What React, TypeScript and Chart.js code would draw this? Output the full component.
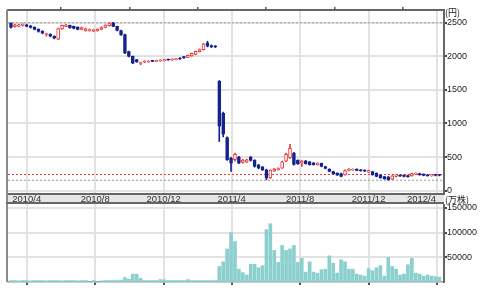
import React, { useEffect, useRef } from 'react';
import { Chart, registerables } from 'chart.js';

Chart.register(...registerables);

// ---- data ----
const firstWeek = '2010-03-04';

const opens = [
  2490, 2440, 2450, 2460, 2470, 2455, 2435, 2405, 2375, 2325,
  2330, 2300, 2255, 2410, 2445, 2460, 2445, 2435, 2400, 2380,
  2380, 2375, 2380, 2400, 2430, 2455, 2500, 2445, 2385, 2325,
  2070, 2000, 1950, 1895, 1915, 1915, 1935, 1925, 1930, 1935,
  1955, 1945, 1950, 1975, 1995, 1985, 2005, 2030, 2070, 2100,
  2200, 2160, 2155, 1628, 1150, 790, 485, 460, 500, 420,
  425, 495, 455, 385, 355, 310, 190, 290, 310, 335,
  440, 490, 560, 450, 415, 445, 430, 415, 385, 405,
  360, 320, 285, 260, 255, 235, 300, 305, 320, 310,
  305, 275, 285, 260, 235, 210, 205, 170, 210, 230,
  230, 225, 220, 245, 255, 245, 235, 220, 240, 235,
];
const closes = [
  2430, 2470, 2470, 2475, 2445, 2430, 2400, 2370, 2345, 2335,
  2300, 2270, 2415, 2460, 2465, 2425, 2415, 2400, 2430, 2410,
  2400, 2395, 2405, 2430, 2465, 2495, 2445, 2385, 2320, 2050,
  2000, 1900, 1920, 1910, 1925, 1930, 1925, 1940, 1945, 1950,
  1945, 1960, 1965, 1960, 1975, 2015, 2045, 2075, 2100, 2185,
  2150, 2140, 2140, 960, 840, 460, 410, 540, 410, 455,
  460, 450, 360, 335, 310, 190, 305, 320, 330, 430,
  540, 630, 390, 400, 435, 400, 385, 385, 410, 360,
  330, 285, 250, 230, 210, 300, 320, 320, 300, 295,
  290, 300, 235, 210, 190, 175, 165, 220, 235, 215,
  210, 205, 255, 260, 235, 225, 220, 235, 225, 225,
];
const highs = [
  2500, 2480, 2480, 2485, 2480, 2460, 2440, 2410, 2380, 2345,
  2335, 2305, 2420, 2465, 2475, 2465, 2450, 2440, 2435, 2420,
  2410, 2400, 2410, 2440, 2470, 2500, 2505, 2450, 2390, 2330,
  2080, 2005, 1955, 1915, 1935, 1935, 1940, 1945, 1950, 1955,
  1960, 1965, 1970, 1980, 2000, 2020, 2050, 2080, 2110, 2195,
  2225, 2170, 2160, 1640, 1170, 800, 495, 560, 510, 465,
  470, 510, 460, 390, 360, 320, 310, 330, 340, 440,
  560, 690, 570, 460, 450, 450, 435, 420, 415, 410,
  365, 325, 290, 265, 260, 310, 330, 325, 325, 315,
  310, 305, 290, 265, 240, 215, 210, 225, 240, 235,
  235, 230, 260, 265, 260, 250, 240, 240, 245, 240,
];
const lows = [
  2420, 2435, 2440, 2450, 2440, 2420, 2395, 2360, 2335, 2300,
  2290, 2260, 2250, 2400, 2440, 2420, 2410, 2395, 2395, 2375,
  2375, 2370, 2375, 2395, 2425, 2450, 2440, 2380, 2310, 2040,
  1990, 1890, 1910, 1875, 1905, 1910, 1920, 1920, 1925, 1930,
  1940, 1940, 1945, 1955, 1970, 1980, 2000, 2025, 2065, 2095,
  2140, 2130, 2130, 730, 800, 450, 285, 440, 400, 410,
  420, 440, 350, 325, 300, 160, 180, 285, 305, 330,
  430, 480, 380, 390, 360, 395, 380, 380, 380, 355,
  325, 280, 245, 225, 205, 230, 295, 300, 295, 290,
  285, 270, 230, 205, 185, 170, 155, 165, 205, 210,
  205, 200, 215, 240, 230, 220, 215, 215, 220, 220,
];
const volumes = [
  3000, 3000, 2500, 3000, 3000, 2500, 3000, 3000, 3000, 2500,
  3000, 3000, 3000, 2500, 3000, 3000, 3000, 2500, 3000, 3000,
  0, 3000, 0, 2500, 3000, 3000, 3000, 3000, 3500, 9000,
  6000, 16000, 16000, 7500, 3000, 3000, 3000, 3000, 5000, 4500,
  3000, 3000, 3000, 3000, 3000, 5000, 3000, 3000, 3000, 3000,
  3000, 3000, 3000, 31500, 41000, 67000, 100000, 82000, 26000, 19000,
  14000, 36000, 36000, 29000, 33000, 106000, 118000, 64000, 40000, 74000,
  64000, 67000, 74000, 40000, 48000, 20000, 41000, 20000, 18000, 25000,
  26000, 53000, 38000, 18000, 45000, 41000, 26000, 26000, 16000, 14000,
  12000, 27000, 23000, 29000, 33000, 12000, 50000, 31500, 26000, 14000,
  16000, 35000, 48000, 18000, 16000, 12000, 14000, 12000, 11000, 10000,
];

const dateLabels = ['2010/4', '2010/8', '2010/12', '2011/4', '2011/8', '2011/12', '2012/4'];
const priceTicks = [0, 500, 1000, 1500, 2000, 2500];
const volumeTicks = [50000, 100000, 150000];
const highLine = 2500;
const lowLine = 155;
const markLine = 240;
const priceUnit = '(円)';
const volumeUnit = '(万株)';

// ---- derived ----
const DAY = 86400000;
const ORIGIN = Date.UTC(2010, 0, 1);
const dayOf = (y: number, m: number, d: number) => (Date.UTC(y, m - 1, d) - ORIGIN) / DAY;
const [fy, fm, fd] = firstWeek.split('-').map(Number);
const weekDays = opens.map((_, i) => dayOf(fy, fm, fd) + 7 * i);
const labelDays = dateLabels.map((s) => {
  const [y, m] = s.split('/').map(Number);
  return dayOf(y, m, 1);
});

const X_MIN = 56.7;
const X_MAX = 833.3;
const RED = '#e83a3a';
const BLUE = '#16238c';
const GRID = '#e2e2e2';
const FONT = 'Liberation Sans';

const setDateTicks = (s: any) => {
  s.ticks = labelDays.map((v) => ({ value: v }));
};

const framePlugin = (withBand: boolean) => ({
  id: 'frame' + (withBand ? 'A' : 'B'),
  beforeDraw(chart: any) {
    if (!withBand) return;
    const { ctx, chartArea } = chart;
    const xs = chart.scales.x;
    ctx.save();
    ctx.fillStyle = '#e6e6e6';
    ctx.fillRect(chartArea.left, xs.top, chartArea.right - chartArea.left, xs.bottom - xs.top);
    ctx.restore();
  },
  afterDraw(chart: any) {
    const { ctx, chartArea } = chart;
    ctx.save();
    ctx.strokeStyle = '#8a8a8a';
    ctx.lineWidth = 2;
    ctx.beginPath();
    const bottom = withBand ? chart.scales.x.bottom : chartArea.bottom;
    ctx.moveTo(chartArea.left - 1, chartArea.top);
    ctx.lineTo(chartArea.left - 1, bottom);
    ctx.stroke();
    if (withBand) {
      const xs = chart.scales.x;
      ctx.strokeStyle = '#666';
      ctx.beginPath();
      ctx.moveTo(chartArea.left - 2, xs.bottom - 1);
      ctx.lineTo(chartArea.right, xs.bottom - 1);
      ctx.stroke();
      // date labels inside the band, kept within the band
      ctx.fillStyle = '#333';
      ctx.font = `9.5px "${FONT}"`;
      ctx.textBaseline = 'middle';
      ctx.textAlign = 'center';
      dateLabels.forEach((lab, i) => {
        const w = ctx.measureText(lab).width;
        let px = xs.getPixelForValue(labelDays[i]);
        px = Math.max(px, chartArea.left + w / 2 + 2);
        px = Math.min(px, chartArea.right - w / 2 - 8);
        ctx.fillText(lab, px, xs.top + 5.5);
      });
      ctx.fillStyle = '#222';
      ctx.font = '9px "Noto Sans CJK JP"';
      ctx.textAlign = 'left';
      ctx.fillText(priceUnit, chartArea.right + 1, chartArea.top + 2.5);
      ctx.fillText(volumeUnit, chartArea.right + 1, xs.top + 5.5);
    }
    ctx.restore();
  },
});

export default function App() {
  const priceRef = useRef<HTMLCanvasElement>(null);
  const volRef = useRef<HTMLCanvasElement>(null);

  useEffect(() => {
    const up = opens.map((o, i) => closes[i] >= o);
    const bodyColor = up.map((u) => (u ? RED : BLUE));
    const bodyFill = up.map((u) => (u ? '#ffffff' : BLUE));

    const hLine = (v: number, color: string) => ({
      type: 'line' as const,
      data: [
        { x: X_MIN, y: v },
        { x: X_MAX, y: v },
      ],
      borderColor: color,
      borderWidth: 1,
      borderDash: [2, 2],
      pointRadius: 0,
      order: 3,
    });

    const c1 = new Chart(priceRef.current as HTMLCanvasElement, {
      type: 'bar',
      data: {
        datasets: [
          hLine(highLine, '#9a9a9a') as any,
          hLine(lowLine, '#9a9a9a') as any,
          hLine(markLine, '#e83a3a') as any,
          {
            type: 'bar',
            data: weekDays.map((x, i) => ({ x, y: [lows[i], highs[i]] })) as any,
            backgroundColor: bodyColor,
            borderWidth: 0,
            barThickness: 1,
            grouped: false,
            order: 2,
          },
          {
            type: 'bar',
            data: weekDays.map((x, i) => ({ x, y: [opens[i], closes[i]] })) as any,
            backgroundColor: bodyFill,
            borderColor: bodyColor,
            borderWidth: 1,
            borderSkipped: false,
            barThickness: 3,
            minBarLength: 1,
            grouped: false,
            order: 1,
          },
        ],
      },
      options: {
        responsive: false,
        animation: false,
        devicePixelRatio: 1,
        events: [],
        layout: { padding: { left: 8, top: 7, right: 0, bottom: 1 } },
        plugins: { legend: { display: false }, tooltip: { enabled: false } },
        scales: {
          x: {
            type: 'linear',
            position: 'bottom',
            min: X_MIN,
            max: X_MAX,
            offset: false,
            afterBuildTicks: setDateTicks,
            afterFit: (s: any) => {
              s.height = 10;
              s.paddingLeft = 0;
              s.paddingRight = 0;
            },
            grid: { color: GRID, lineWidth: 2, drawTicks: false, offset: false },
            border: { color: '#666', width: 2 },
            ticks: { display: false },
          },
          xTop: {
            type: 'linear',
            position: 'top',
            display: true,
            min: X_MIN,
            max: X_MAX,
            offset: false,
            afterBuildTicks: setDateTicks,
            afterFit: (s: any) => {
              s.height = 3;
              s.paddingLeft = 0;
              s.paddingRight = 0;
            },
            grid: { drawOnChartArea: false, tickLength: 3, tickColor: '#555', lineWidth: 1.5 },
            border: { color: '#666', width: 2 },
            ticks: { display: false },
          },
          y: {
            type: 'linear',
            position: 'right',
            min: -50,
            max: 2690,
            afterBuildTicks: (s: any) => {
              s.ticks = priceTicks.map((v) => ({ value: v }));
            },
            afterFit: (s: any) => {
              s.width = 36;
              s.paddingTop = 0;
              s.paddingBottom = 0;
            },
            grid: { color: GRID, lineWidth: 2, tickLength: 3, tickColor: '#444' },
            border: { color: '#666', width: 2 },
            ticks: {
              padding: 0,
              color: '#222',
              font: { family: FONT, size: 9 },
              callback: (v: any) => String(v),
            },
          },
        } as any,
      },
      plugins: [framePlugin(true)],
    });

    const c2 = new Chart(volRef.current as HTMLCanvasElement, {
      type: 'bar',
      data: {
        datasets: [
          {
            data: weekDays.map((x, i) => ({ x, y: volumes[i] })) as any,
            backgroundColor: '#8ccfcf',
            borderWidth: 0,
            barThickness: 3,
            grouped: false,
          },
        ],
      },
      options: {
        responsive: false,
        animation: false,
        devicePixelRatio: 1,
        events: [],
        layout: { padding: { left: 8, top: 0, right: 0, bottom: 0 } },
        plugins: { legend: { display: false }, tooltip: { enabled: false } },
        scales: {
          x: {
            type: 'linear',
            position: 'bottom',
            min: X_MIN,
            max: X_MAX,
            offset: false,
            afterBuildTicks: setDateTicks,
            afterFit: (s: any) => {
              s.height = 18;
              s.paddingLeft = 0;
              s.paddingRight = 0;
            },
            grid: { color: GRID, lineWidth: 2, tickLength: 3, tickColor: '#555', offset: false },
            border: { color: '#999', width: 1.5 },
            ticks: { display: false },
          },
          y: {
            type: 'linear',
            position: 'right',
            min: 0,
            max: 158000,
            afterBuildTicks: (s: any) => {
              s.ticks = volumeTicks.map((v) => ({ value: v }));
            },
            afterFit: (s: any) => {
              s.width = 36;
              s.paddingTop = 0;
              s.paddingBottom = 0;
            },
            grid: { color: GRID, lineWidth: 2, tickLength: 3, tickColor: '#444' },
            border: { color: '#666', width: 2 },
            ticks: {
              padding: 0,
              color: '#222',
              font: { family: FONT, size: 9 },
              callback: (v: any) => String(v),
            },
          },
        } as any,
      },
      plugins: [framePlugin(false)],
    });

    return () => {
      c1.destroy();
      c2.destroy();
    };
  }, []);

  return (
    <div style={{ position: 'absolute', left: 0, top: 0, width: 480, height: 300, background: '#fff' }}>
      <canvas ref={priceRef} width={480} height={205} style={{ position: 'absolute', left: 0, top: 0 }} />
      <canvas ref={volRef} width={480} height={96} style={{ position: 'absolute', left: 0, top: 204 }} />
    </div>
  );
}
